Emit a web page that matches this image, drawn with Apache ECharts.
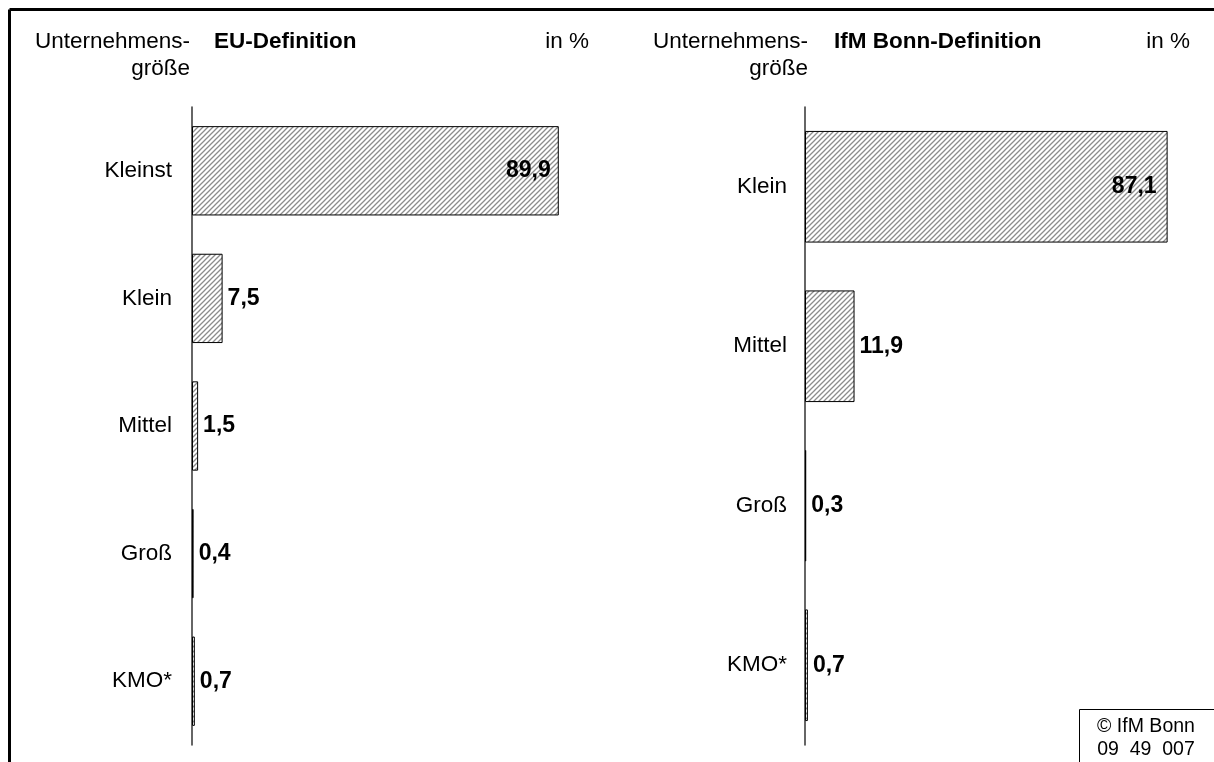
<!DOCTYPE html>
<html>
<head>
<meta charset="utf-8">
<script src="https://cdn.jsdelivr.net/npm/echarts@6/dist/echarts.min.js"></script>
<style>
html,body{margin:0;padding:0;background:#fff;}
#c{width:1214px;height:762px;}
</style>
</head>
<body>
<div id="c"></div>
<script>
const euCategories = ['Kleinst', 'Klein', 'Mittel', 'Groß', 'KMO*'];
const euValues = [89.9, 7.5, 1.5, 0.4, 0.7];
const ifmCategories = ['Klein', 'Mittel', 'Groß', 'KMO*'];
const ifmValues = [87.1, 11.9, 0.3, 0.7];
const headerLeft = { line1: 'Unternehmens-', line2: 'größe', title: 'EU-Definition', unit: 'in %' };
const headerRight = { line1: 'Unternehmens-', line2: 'größe', title: 'IfM Bonn-Definition', unit: 'in %' };
const sourceLines = ['© IfM Bonn', '09  49  007'];

const FONT = "'Liberation Sans', Arial, sans-serif";
const FS = 22.5;

function hatch() {
  const s = 5;
  const c = document.createElement('canvas');
  c.width = s; c.height = s;
  const g = c.getContext('2d');
  g.fillStyle = '#ffffff';
  g.fillRect(0, 0, s, s);
  g.strokeStyle = '#8c8c8c';
  g.lineWidth = 1.3;
  g.beginPath();
  g.moveTo(0, s); g.lineTo(s, 0);
  g.moveTo(-1, 1); g.lineTo(1, -1);
  g.moveTo(s - 1, s + 1); g.lineTo(s + 1, s - 1);
  g.stroke();
  return c;
}
const pattern = { image: hatch(), repeat: 'repeat' };

function fmt(v) { return v.toFixed(1).replace('.', ','); }

function buildData(values, insideDist) {
  return values.map(v => ({
    value: v,
    label: v > 50
      ? { position: 'insideRight', distance: insideDist }
      : { position: 'right', distance: 5 }
  }));
}

const chart = echarts.init(document.getElementById('c'));

const axisLabelStyle = { fontSize: FS, color: '#000', fontFamily: FONT };
const valueLabel = {
  show: true, formatter: p => fmt(p.value),
  fontSize: 23, fontWeight: 'bold', color: '#000', fontFamily: FONT
};

const option = {
  animation: false,
  backgroundColor: '#fff',
  grid: [
    { left: 192, top: 107, width: 408, bottom: 17 },
    { left: 805, top: 107, width: 408, bottom: 17 }
  ],
  xAxis: [
    { gridIndex: 0, type: 'value', min: 0, max: 100, show: false },
    { gridIndex: 1, type: 'value', min: 0, max: 98, show: false }
  ],
  yAxis: [
    {
      gridIndex: 0, type: 'category', inverse: true, data: euCategories,
      axisLine: { show: true, lineStyle: { color: '#333', width: 1.5 } },
      axisTick: { show: false },
      axisLabel: Object.assign({ margin: 20 }, axisLabelStyle),
      splitLine: { show: false }
    },
    {
      gridIndex: 1, type: 'category', inverse: true, data: ifmCategories,
      axisLine: { show: true, lineStyle: { color: '#333', width: 1.5 } },
      axisTick: { show: false },
      axisLabel: Object.assign({ margin: 18 }, axisLabelStyle),
      splitLine: { show: false }
    }
  ],
  series: [
    {
      type: 'bar', xAxisIndex: 0, yAxisIndex: 0,
      data: buildData(euValues, 8),
      barCategoryGap: '30%',
      itemStyle: { color: pattern, borderColor: '#000', borderWidth: 1 },
      label: valueLabel
    },
    {
      type: 'bar', xAxisIndex: 1, yAxisIndex: 1,
      data: buildData(ifmValues, 11),
      barCategoryGap: '30%',
      itemStyle: { color: pattern, borderColor: '#000', borderWidth: 1 },
      label: valueLabel
    }
  ],
  graphic: [
    { type: 'line', shape: { x1: 9.5, y1: 9.5, x2: 1220, y2: 9.5 }, style: { stroke: '#000', lineWidth: 3 } },
    { type: 'line', shape: { x1: 9.5, y1: 9.5, x2: 9.5, y2: 770 }, style: { stroke: '#000', lineWidth: 3 } },

    { type: 'text', x: 190, y: 42, style: { text: headerLeft.line1, font: FS + 'px ' + FONT, fill: '#000', align: 'right', verticalAlign: 'middle' } },
    { type: 'text', x: 190, y: 69, style: { text: headerLeft.line2, font: FS + 'px ' + FONT, fill: '#000', align: 'right', verticalAlign: 'middle' } },
    { type: 'text', x: 214, y: 42, style: { text: headerLeft.title, font: 'bold ' + FS + 'px ' + FONT, fill: '#000', align: 'left', verticalAlign: 'middle' } },
    { type: 'text', x: 589, y: 42, style: { text: headerLeft.unit, font: FS + 'px ' + FONT, fill: '#000', align: 'right', verticalAlign: 'middle' } },

    { type: 'text', x: 808, y: 42, style: { text: headerRight.line1, font: FS + 'px ' + FONT, fill: '#000', align: 'right', verticalAlign: 'middle' } },
    { type: 'text', x: 808, y: 69, style: { text: headerRight.line2, font: FS + 'px ' + FONT, fill: '#000', align: 'right', verticalAlign: 'middle' } },
    { type: 'text', x: 834, y: 42, style: { text: headerRight.title, font: 'bold ' + FS + 'px ' + FONT, fill: '#000', align: 'left', verticalAlign: 'middle' } },
    { type: 'text', x: 1190, y: 42, style: { text: headerRight.unit, font: FS + 'px ' + FONT, fill: '#000', align: 'right', verticalAlign: 'middle' } },

    { type: 'rect', shape: { x: 1079.5, y: 709.5, width: 200, height: 100 }, style: { fill: '#fff', stroke: '#000', lineWidth: 1 } },
    { type: 'text', x: 1146, y: 727, style: { text: sourceLines[0], font: '19.5px ' + FONT, fill: '#000', align: 'center', verticalAlign: 'middle' } },
    { type: 'text', x: 1146, y: 750, style: { text: sourceLines[1], font: '19.5px ' + FONT, fill: '#000', align: 'center', verticalAlign: 'middle' } }
  ]
};
chart.setOption(option);
</script>
</body>
</html>
